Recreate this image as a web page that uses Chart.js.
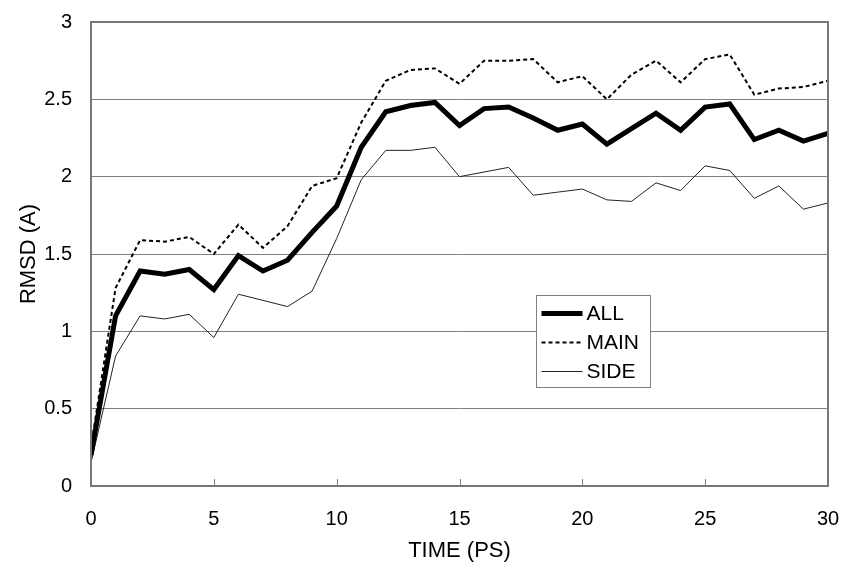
<!DOCTYPE html>
<html>
<head>
<meta charset="utf-8">
<script src="https://cdn.jsdelivr.net/npm/chart.js@4/dist/chart.umd.min.js"></script>
<style>
  body { margin: 0; background: #fff; }
  #wrap { width: 847px; height: 565px; }
</style>
</head>
<body>
<div id="wrap"><canvas id="rmsdChart" width="847" height="565"></canvas></div>
<script>
// time in ps
const times = [0, 1, 2, 3, 4, 5, 6, 7, 8, 9, 10, 11, 12, 13, 14, 15, 16, 17, 18, 19, 20, 21, 22, 23, 24, 25, 26, 27, 28, 29, 30];

const allRmsd = [0.20, 1.10, 1.39, 1.37, 1.40, 1.27, 1.49, 1.39, 1.46, 1.64, 1.81, 2.19, 2.42, 2.46, 2.48, 2.33, 2.44, 2.45, 2.38, 2.30, 2.34, 2.21, 2.31, 2.41, 2.30, 2.45, 2.47, 2.24, 2.30, 2.23, 2.28];
const mainRmsd = [0.25, 1.28, 1.59, 1.58, 1.61, 1.50, 1.69, 1.54, 1.68, 1.94, 1.99, 2.35, 2.62, 2.69, 2.70, 2.60, 2.75, 2.75, 2.76, 2.61, 2.65, 2.50, 2.66, 2.75, 2.61, 2.76, 2.79, 2.53, 2.57, 2.58, 2.62];
const sideRmsd = [0.15, 0.84, 1.10, 1.08, 1.11, 0.96, 1.24, 1.20, 1.16, 1.26, 1.60, 1.98, 2.17, 2.17, 2.19, 2.00, 2.03, 2.06, 1.88, 1.90, 1.92, 1.85, 1.84, 1.96, 1.91, 2.07, 2.04, 1.86, 1.94, 1.79, 1.83];

const xTicks = [0, 5, 10, 15, 20, 25, 30];
const yTicks = [0, 0.5, 1, 1.5, 2, 2.5, 3];

const toPoints = (vals) => vals.map((v, i) => ({ x: times[i], y: v }));

const FONT = '"Liberation Sans", Arial, sans-serif';

// frame around plot area + small inward ticks on the x axis
const framePlugin = {
    id: 'frame',
    afterDraw(chart) {
        const { ctx, chartArea: a, scales } = chart;
        ctx.save();
        ctx.strokeStyle = '#808080';
        ctx.lineWidth = 1;
        xTicks.forEach(t => {
            if (t === 0 || t === 30) return;
            const px = Math.round(scales.x.getPixelForValue(t)) + 0.5;
            ctx.beginPath();
            ctx.moveTo(px, a.bottom);
            ctx.lineTo(px, a.bottom - 7);
            ctx.stroke();
        });
        ctx.strokeStyle = '#777';
        ctx.lineWidth = 2;
        ctx.strokeRect(a.left, a.top, a.right - a.left, a.bottom - a.top);
        ctx.restore();
    }
};

// legend box inside the plot
const boxLegend = {
    id: 'boxLegend',
    afterDraw(chart) {
        const { ctx, chartArea: a } = chart;
        const w = a.right - a.left, h = a.bottom - a.top;
        const bx = Math.round(a.left + w * 0.604) + 0.5;
        const by = Math.round(a.top + h * 0.588) + 0.5;
        const bw = 114, bh = 92;
        ctx.save();
        ctx.fillStyle = '#fff';
        ctx.fillRect(bx, by, bw, bh);
        ctx.strokeStyle = '#808080';
        ctx.lineWidth = 1;
        ctx.strokeRect(bx, by, bw, bh);
        ctx.font = '21px ' + FONT;
        ctx.textBaseline = 'middle';
        ctx.fillStyle = '#000';
        chart.data.datasets.forEach((ds, i) => {
            const y = by + 18 + i * 29;
            ctx.beginPath();
            ctx.strokeStyle = ds.borderColor;
            ctx.lineWidth = ds.borderWidth;
            ctx.setLineDash(ds.borderDash || []);
            ctx.moveTo(bx + 5, y);
            ctx.lineTo(bx + 46, y);
            ctx.stroke();
            ctx.setLineDash([]);
            ctx.fillText(ds.label, bx + 50, y + 1);
        });
        ctx.restore();
    }
};

const ctx = document.getElementById('rmsdChart').getContext('2d');
const rmsdChart = new Chart(ctx, {
    type: 'line',
    data: {
        datasets: [{
            label: 'ALL',
            data: toPoints(allRmsd),
            borderColor: '#000',
            borderWidth: 5,
            pointRadius: 0,
            tension: 0
        }, {
            label: 'MAIN',
            data: toPoints(mainRmsd),
            borderColor: '#000',
            borderWidth: 2,
            borderDash: [4, 3],
            pointRadius: 0,
            tension: 0
        }, {
            label: 'SIDE',
            data: toPoints(sideRmsd),
            borderColor: '#222',
            borderWidth: 1,
            pointRadius: 0,
            tension: 0
        }]
    },
    options: {
        responsive: false,
        animation: false,
        devicePixelRatio: 1,
        layout: { padding: { left: 0, top: 22, right: 19, bottom: 0 } },
        plugins: {
            legend: { display: false },
            tooltip: { enabled: false }
        },
        scales: {
            x: {
                type: 'linear',
                min: 0,
                max: 30,
                afterFit: (s) => {
                    s.height = 79;
                    s.paddingLeft = 8;
                    s.paddingRight = 8;
                },
                afterBuildTicks: (s) => { s.ticks = xTicks.map(v => ({ value: v })); },
                grid: { display: false, drawTicks: false },
                border: { display: false },
                ticks: { color: '#000', padding: 21, font: { family: FONT, size: 20 } },
                title: {
                    display: true,
                    text: 'TIME (PS)',
                    color: '#000',
                    padding: { top: 0, bottom: 1 },
                    font: { family: FONT, size: 22 }
                }
            },
            y: {
                min: 0,
                max: 3,
                afterFit: (s) => {
                    s.width = 91;
                    s.paddingTop = 8;
                    s.paddingBottom = 8;
                },
                afterBuildTicks: (s) => { s.ticks = yTicks.map(v => ({ value: v })); },
                grid: { color: '#808080', lineWidth: 1, drawTicks: false },
                border: { display: false },
                ticks: {
                    color: '#000',
                    padding: 19,
                    font: { family: FONT, size: 20 },
                    callback: (v) => String(v)
                },
                title: {
                    display: true,
                    text: 'RMSD (A)',
                    color: '#000',
                    padding: { top: 16, bottom: 0 },
                    font: { family: FONT, size: 22 }
                }
            }
        }
    },
    plugins: [framePlugin, boxLegend]
});
</script>
</body>
</html>
